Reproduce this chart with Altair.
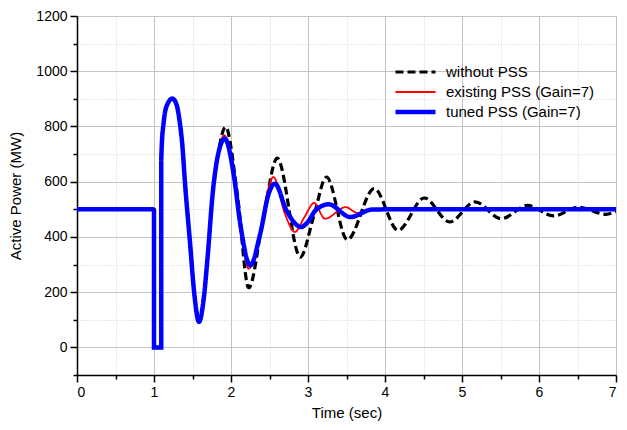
import altair as alt
import pandas as pd

series_names = ["without PSS", "existing PSS (Gain=7)", "tuned PSS (Gain=7)"]

# step part (same for all three series)
step_t = [0.0, 1.0, 1.0, 1.094, 1.094]
step_p = [500, 500, 0, 0, 677]

# common oscillation part up to divergence
common_t = [1.094, 1.10, 1.124, 1.16, 1.239, 1.295, 1.337, 1.37, 1.40, 1.465, 1.528, 1.584, 1.648, 1.70, 1.762, 1.826]
common_p = [677, 726, 811, 871, 901, 877, 810, 726, 605, 388, 182, 92, 182, 340, 557, 690]

# without PSS
black_t = [1.93, 2.08, 2.23, 2.42, 2.60, 2.90, 3.07, 3.24, 3.51, 3.86, 4.17, 4.51, 4.84, 5.17, 5.51, 5.85, 6.19, 6.51, 6.87, 7.0]
black_p = [798, 560, 216, 470, 685, 327, 470, 617, 390, 575, 424, 541, 454, 527, 466, 514, 476, 508, 482, 492]

# existing PSS
red_t = [1.91, 2.04, 2.12, 2.23, 2.38, 2.48, 2.55, 2.70, 2.83, 2.95, 3.08, 3.22, 3.49, 3.64, 3.80, 4.0, 4.3, 4.6, 5.0, 7.0]
red_p = [768, 620, 445, 285, 420, 570, 617, 484, 418, 470, 523, 466, 508, 487, 497, 500, 496, 503, 500, 500]

# tuned PSS
blue_t = [1.92, 2.04, 2.12, 2.25, 2.38, 2.49, 2.57, 2.72, 2.91, 3.0, 3.1, 3.27, 3.55, 3.83, 4.1, 7.0]
blue_p = [756, 617, 448, 297, 412, 557, 593, 496, 436, 455, 497, 518, 472, 499, 500, 500]

x_major = [0, 1, 2, 3, 4, 5, 6, 7]
x_minor = [0.5, 1.5, 2.5, 3.5, 4.5, 5.5, 6.5]
y_major = [0, 200, 400, 600, 800, 1000, 1200]
y_minor = [-100, 100, 300, 500, 700, 900, 1100]

rows = []
for s, tt, pp in [(series_names[0], black_t, black_p),
                  (series_names[1], red_t, red_p),
                  (series_names[2], blue_t, blue_p)]:
    for t, p in zip(step_t, step_p):
        rows.append({"series": s, "part": "step", "t": t, "p": p})
    for t, p in zip(common_t + tt, common_p + pp):
        rows.append({"series": s, "part": "osc", "t": t, "p": p})
df = pd.DataFrame(rows)

xs = alt.Scale(domain=[0, 7], nice=False, zero=False)
ys = alt.Scale(domain=[-100, 1200], nice=False, zero=False)

font = "Liberation Sans"

major_x_axis = alt.Axis(values=x_major, orient="bottom", title="Time (sec)", grid=True, format="d",
                        gridColor="#c4c4c4", gridWidth=1, tickSize=7, tickWidth=1.5,
                        tickColor="black", domainColor="black", domainWidth=1.5,
                        labelFontSize=14, labelColor="black", labelPadding=3,
                        titleFontSize=15, titleFontWeight="normal", titleColor="black",
                        titlePadding=6, labelFont=font, titleFont=font)
major_y_axis = alt.Axis(values=y_major, orient="left", title="Active Power (MW)", grid=True, format="d",
                        gridColor="#c4c4c4", gridWidth=1, tickSize=7, tickWidth=1.5,
                        tickColor="black", domainColor="black", domainWidth=1.5,
                        labelFontSize=14, labelColor="black", labelPadding=3,
                        titleFontSize=15, titleFontWeight="normal", titleColor="black",
                        titlePadding=12, labelFont=font, titleFont=font)
minor_x_axis = alt.Axis(values=x_minor, orient="bottom", title=None, grid=True,
                        gridColor="#d0d0d0", gridDash=[1, 2], gridWidth=1, tickSize=4,
                        tickWidth=1.5, tickColor="black", domain=False, labels=False)
minor_y_axis = alt.Axis(values=y_minor, orient="left", title=None, grid=True,
                        gridColor="#d0d0d0", gridDash=[1, 2], gridWidth=1, tickSize=4,
                        tickWidth=1.5, tickColor="black", domain=False, labels=False)

legend = alt.Legend(title=None, orient="none", legendX=316, legendY=46, symbolSize=1600,
                    symbolType="stroke", clipHeight=20, rowPadding=0, labelFontSize=15,
                    labelColor="black", labelFont=font, labelOffset=8, padding=0,
                    labelLimit=300)

color = alt.Color("series:N", scale=alt.Scale(domain=series_names, range=["black", "red", "blue"]),
                  legend=legend)
dash = alt.StrokeDash("series:N", scale=alt.Scale(domain=series_names, range=[[8, 4], [1, 0], [1, 0]]),
                      legend=legend)
width = alt.StrokeWidth("series:N", scale=alt.Scale(type="ordinal", domain=series_names, range=[3.2, 1.8, 4.5]),
                        legend=legend)

base = alt.Chart(df)
layers = []
k = 0
for s in series_names:
    for part, interp in [("step", "linear"), ("osc", "monotone")]:
        if k == 0:
            xa, ya = major_x_axis, major_y_axis
        elif k == 1:
            xa, ya = minor_x_axis, minor_y_axis
        else:
            xa, ya = None, None
        layer = base.transform_filter(
            (alt.datum.series == s) & (alt.datum.part == part)
        ).mark_line(interpolate=interp, clip=True).encode(
            x=alt.X("t:Q", scale=xs, axis=xa),
            y=alt.Y("p:Q", scale=ys, axis=ya),
            color=color, strokeDash=dash, strokeWidth=width,
        )
        layers.append(layer)
        k += 1

chart = alt.layer(*layers).resolve_axis(x="independent", y="independent").properties(
    width=539, height=359,
    autosize=alt.AutoSizeParams(type="none"),
    padding={"left": 69, "top": 8, "right": 3, "bottom": 46}
).configure_view(strokeWidth=0).configure(background="white")

chart.save("out.html", embed_options={"renderer": "svg", "actions": False})
